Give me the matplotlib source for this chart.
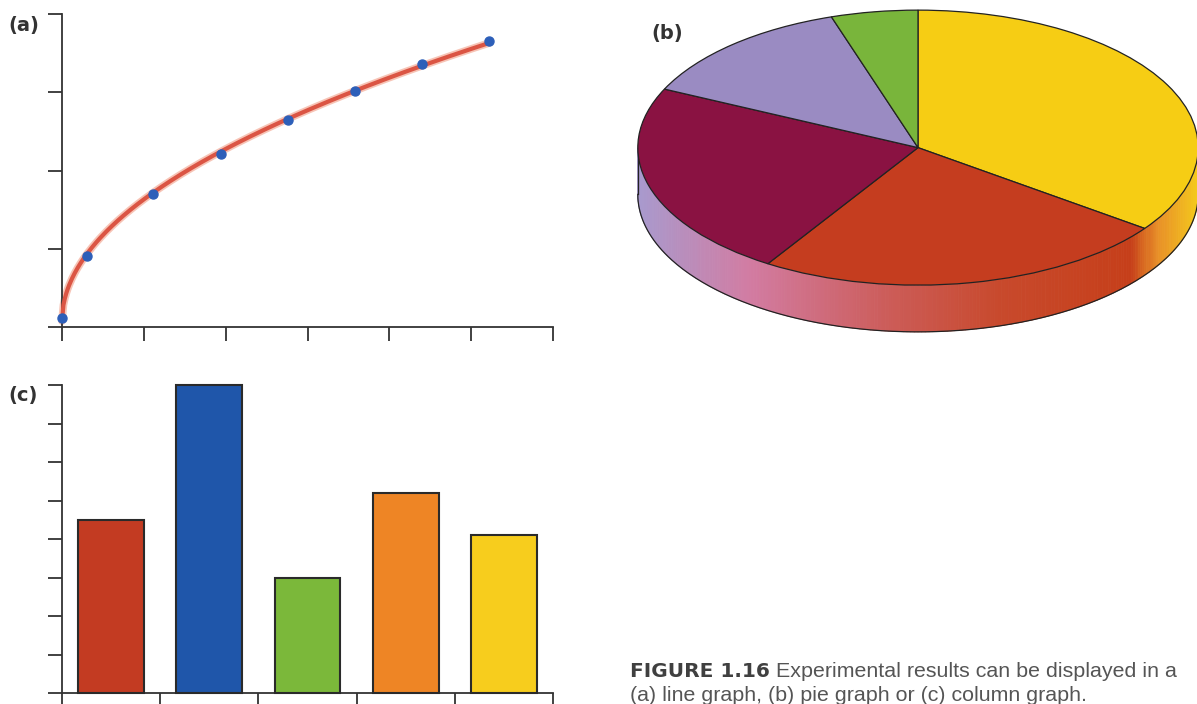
import numpy as np
import matplotlib.pyplot as plt
from matplotlib.colors import LinearSegmentedColormap
from matplotlib.collections import PolyCollection

# (a) line graph: measured points
line_x = [0, 0.31, 1.11, 1.94, 2.76, 3.58, 4.40, 5.22]
line_y = [0.12, 0.91, 1.70, 2.21, 2.65, 3.02, 3.36, 3.65]

# (b) pie graph: shares, clockwise from 12 o'clock
pie_values = [35, 24, 23, 13, 5]
pie_colors = ['#f6cd14', '#c53d1f', '#8a1242', '#9a8bc2', '#79b53b']

# (c) column graph
bar_values = [4.5, 8.0, 3.0, 5.2, 4.1]
bar_colors = ['#c33b22', '#1f56aa', '#7bb83a', '#ee8525', '#f7cd1d']

caption_bold = 'FIGURE 1.16'
caption_rest = ' Experimental results can be displayed in a'
caption_line2 = '(a) line graph, (b) pie graph or (c) column graph.'

W, H = 1197, 704
fig = plt.figure(figsize=(W / 100, H / 100), dpi=100)
fig.patch.set_facecolor('white')


def box(x0, y0, x1, y1):
    # pixel box (top-left origin) -> figure fraction rect
    return [x0 / W, 1 - y1 / H, (x1 - x0) / W, (y1 - y0) / H]


axis_color = '#333333'


def style_axes(ax):
    for s in ['top', 'right']:
        ax.spines[s].set_visible(False)
    for s in ['left', 'bottom']:
        ax.spines[s].set_color(axis_color)
        ax.spines[s].set_linewidth(1.3)
    ax.tick_params(direction='out', length=10, width=1.3, color=axis_color,
                   labelleft=False, labelbottom=False)
    ax.set_facecolor('none')


# ---- (a) line graph ----
ax_a = fig.add_axes(box(62, 14, 553, 327))
style_axes(ax_a)
ax_a.set_xlim(0, 6)
ax_a.set_ylim(0, 4)
ax_a.set_xticks(range(7))
ax_a.set_yticks(range(5))

# smooth trend curve: least squares fit of y = a*sqrt(x) + b
a, b = np.polyfit(np.sqrt(line_x), line_y, 1)
xs = np.linspace(0, max(line_x), 300)
ys = a * np.sqrt(xs) + b
ax_a.plot(xs, ys, color='#f7c4b6', lw=5.5, solid_capstyle='round', zorder=2, clip_on=False)
ax_a.plot(xs, ys, color='#db5544', lw=3.0, solid_capstyle='round', zorder=3, clip_on=False)
ax_a.plot(line_x, line_y, 'o', color='#2d5fb9', ms=6.5, zorder=4, clip_on=False)

# ---- (c) column graph ----
ax_c = fig.add_axes(box(62, 385, 553, 693))
style_axes(ax_c)
ax_c.set_xlim(-0.5, 4.5)
ax_c.set_ylim(0, 8)
ax_c.set_xticks(np.arange(-0.5, 5, 1))
ax_c.set_yticks(range(9))
ax_c.bar(range(len(bar_values)), bar_values, width=0.67, color=bar_colors,
         edgecolor='#2a2a2a', linewidth=1.5, zorder=3, clip_on=False)

# ---- (b) 3D-looking pie ----
ax_b = fig.add_axes(box(635, 6, 1201, 347))
ax_b.pie(pie_values, colors=pie_colors, startangle=90, counterclock=False,
         wedgeprops=dict(edgecolor='#222222', linewidth=0.9, zorder=3))
ax_b.set_aspect('auto')
ax_b.set_xlim(-1.01, 1.01)
ax_b.set_ylim(-1.45, 1.03)
ax_b.axis('off')

t = 0.34  # thickness of the disc
side_cmap = LinearSegmentedColormap.from_list('side', [
    (0.0, '#a89ace'), (0.2, '#d27ca2'), (0.45, '#cc5c58'),
    (0.65, '#c8492c'), (0.88, '#c63f1a'), (0.93, '#e88f28'), (1.0, '#f4c81c')])
th = np.linspace(np.pi, 2 * np.pi, 241)
quads, cols = [], []
for t0, t1 in zip(th[:-1], th[1:]):
    quads.append([(np.cos(t0), np.sin(t0)), (np.cos(t1), np.sin(t1)),
                  (np.cos(t1), np.sin(t1) - t), (np.cos(t0), np.sin(t0) - t)])
    cols.append(side_cmap((np.cos((t0 + t1) / 2) + 1) / 2))
ax_b.add_collection(PolyCollection(quads, facecolors=cols, edgecolors=cols,
                                   linewidths=0.6, zorder=1))
ax_b.plot(np.cos(th), np.sin(th) - t, color='#222222', lw=0.9, zorder=2)
ax_b.plot([-1, -1], [0, -t], color='#222222', lw=0.9, zorder=2)

# ---- panel letters ----
lab = dict(fontsize=14, fontweight='bold', color='#333333', family='DejaVu Sans',
           va='center', ha='left')
fig.text(8 / W, 1 - 26 / H, '(a)', **lab)
fig.text(651 / W, 1 - 33 / H, '(b)', **lab)
fig.text(8 / W, 1 - 396 / H, '(c)', **lab)

# ---- caption ----
cap = dict(fontsize=15.4, color='#555555', family=['Liberation Sans', 'DejaVu Sans'],
           va='baseline', ha='left')
y1 = 1 - 677 / H
tb = fig.text(630 / W, y1, caption_bold, fontsize=14.5, fontweight='bold',
              color='#404040', family='DejaVu Sans', va='baseline', ha='left')
fig.canvas.draw()
bb = tb.get_window_extent(fig.canvas.get_renderer())
fig.text(bb.x1 / W, y1, caption_rest, **cap)
fig.text(630 / W, 1 - 701 / H, caption_line2, **cap)

fig.savefig('out.png', dpi=100, facecolor='white')
